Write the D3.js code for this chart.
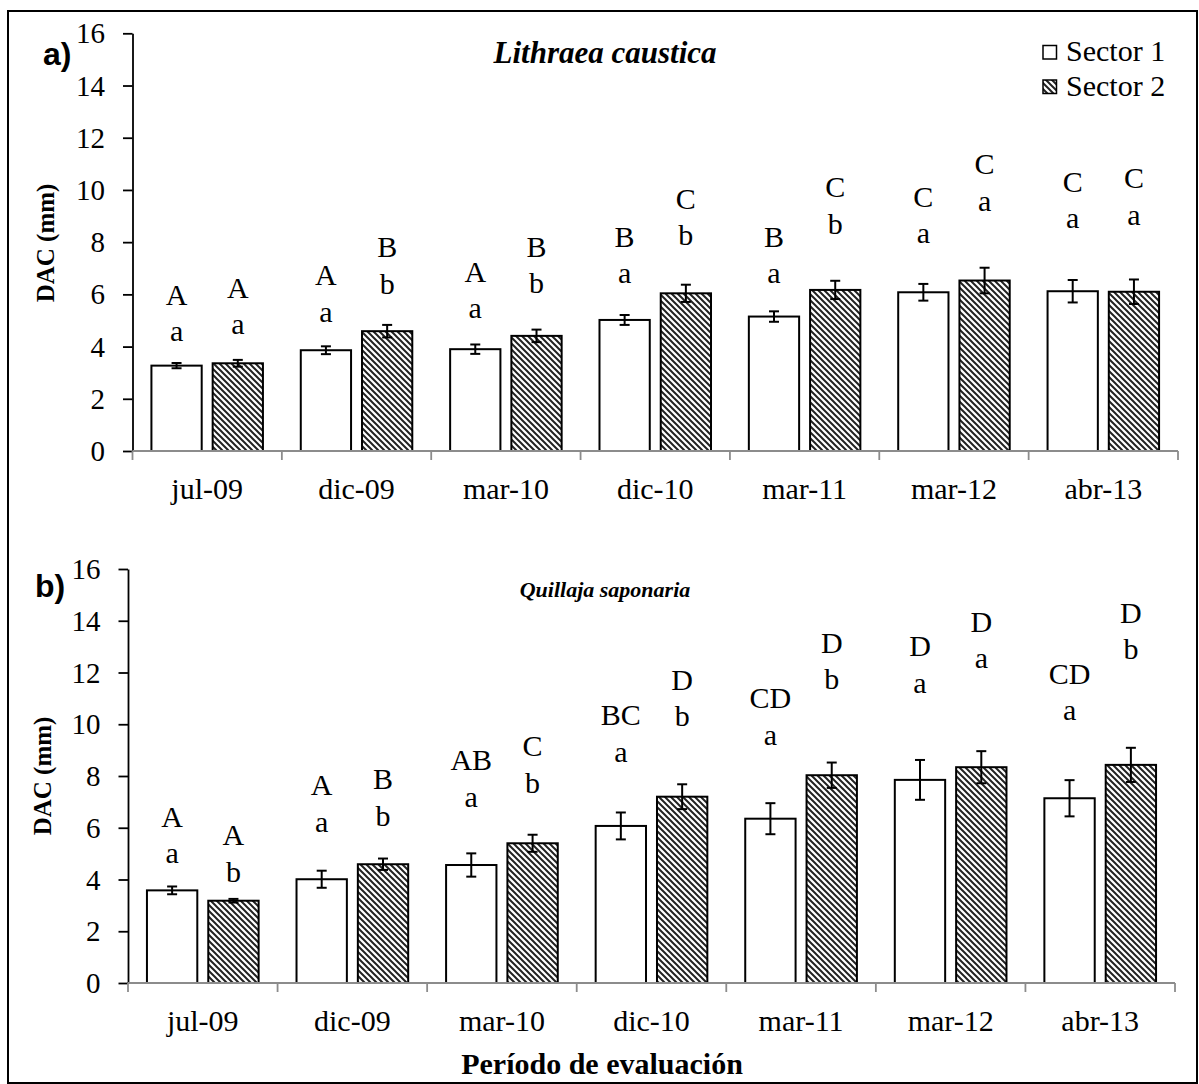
<!DOCTYPE html>
<html><head><meta charset="utf-8">
<script src="https://cdn.jsdelivr.net/npm/d3@7/dist/d3.min.js"></script>
<style>body{margin:0;background:#fff}</style>
</head><body><svg id="c" width="1199" height="1084"></svg>
<script>
const categories = ["jul-09","dic-09","mar-10","dic-10","mar-11","mar-12","abr-13"];
const seriesNames = ["Sector 1","Sector 2"];
const yTicks = [0,2,4,6,8,10,12,14,16];

// Panel a) Lithraea caustica
const aS1 = [3.27, 3.86, 3.90, 5.02, 5.15, 6.08, 6.12];
const aS1err = [0.10, 0.15, 0.18, 0.19, 0.20, 0.32, 0.43];
const aS2 = [3.36, 4.59, 4.41, 6.04, 6.17, 6.53, 6.10];
const aS2err = [0.13, 0.24, 0.24, 0.33, 0.35, 0.49, 0.47];
const aS1up = ["A","A","A","B","B","C","C"];
const aS1lo = ["a","a","a","a","a","a","a"];
const aS2up = ["A","B","B","C","C","C","C"];
const aS2lo = ["a","b","b","b","b","a","a"];
const aS1lev = [4.21, 4.95, 5.08, 6.43, 6.43, 7.96, 8.53];
const aS2lev = [4.47, 6.02, 6.04, 7.89, 8.33, 9.21, 8.66];

// Panel b) Quillaja saponaria
const bS1 = [3.58, 4.01, 4.56, 6.07, 6.35, 7.85, 7.14];
const bS1err = [0.15, 0.33, 0.45, 0.52, 0.60, 0.77, 0.70];
const bS2 = [3.18, 4.59, 5.40, 7.20, 8.03, 8.34, 8.43];
const bS2err = [0.07, 0.22, 0.33, 0.48, 0.49, 0.62, 0.66];
const bS1up = ["A","A","AB","BC","CD","D","CD"];
const bS1lo = ["a","a","a","a","a","a","a"];
const bS2up = ["A","B","C","D","D","D","D"];
const bS2lo = ["b","b","b","b","b","a","b"];
const bS1lev = [4.63, 5.85, 6.81, 8.55, 9.20, 11.22, 10.16];
const bS2lev = [3.92, 6.07, 7.35, 9.93, 11.35, 12.16, 12.51];

const svg = d3.select("#c");
const serif = "'Liberation Serif','Times New Roman',serif";

const defs = svg.append("defs");
const pat = defs.append("pattern").attr("id","hatch").attr("patternUnits","userSpaceOnUse")
  .attr("width",6).attr("height",6);
pat.append("rect").attr("width",6).attr("height",6).attr("fill","#fff");
pat.append("path").attr("d","M-1,-1 L7,7 M-4,2 L2,8 M4,-2 L8,2").attr("stroke","#222").attr("stroke-width",2);

// frame
svg.append("rect").attr("x",8).attr("y",11).attr("width",1189).attr("height",1072)
  .attr("fill","none").attr("stroke","#000").attr("stroke-width",2);

function panel(cfg){
  const g = svg.append("g");
  const x = d3.scaleBand().domain(categories).range([cfg.x0, cfg.x1]).paddingInner(0).paddingOuter(0);
  const xs = d3.scaleBand().domain(seriesNames).range([0, x.bandwidth()]).paddingInner(0.179).paddingOuter(0.309);
  const y = d3.scaleLinear().domain([0,16]).range([cfg.yb, cfg.yt]);
  const fills = ["#fff","url(#hatch)"];
  const vals = [cfg.s1, cfg.s2], errs = [cfg.e1, cfg.e2], ups=[cfg.u1,cfg.u2], los=[cfg.l1,cfg.l2], levs=[cfg.v1,cfg.v2];

  // y axis
  const ya = g.append("g").attr("transform",`translate(${cfg.x0},0)`)
    .call(d3.axisLeft(y).tickValues(yTicks).tickSize(9.5).tickPadding(18).tickSizeOuter(0));
  ya.select(".domain").attr("stroke","#000").attr("stroke-width",1.8);
  ya.selectAll(".tick line").attr("stroke","#000").attr("stroke-width",1.8);
  ya.selectAll(".tick text").attr("font-family",serif).attr("font-size",29).attr("fill","#000").attr("dy","0.33em");

  // bars
  seriesNames.forEach((s,si)=>{
    const gg = g.append("g");
    gg.selectAll("rect").data(categories).join("rect")
      .attr("x",(c)=>x(c)+xs(s)).attr("width",xs.bandwidth())
      .attr("y",(c,i)=>y(vals[si][i])).attr("height",(c,i)=>y(0)-y(vals[si][i]))
      .attr("fill",fills[si]).attr("stroke","#000").attr("stroke-width",2);
    // error bars
    const eb = gg.selectAll("g.eb").data(categories).join("g").attr("class","eb");
    const cx = (c)=>x(c)+xs(s)+xs.bandwidth()/2;
    eb.append("line").attr("x1",cx).attr("x2",cx)
      .attr("y1",(c,i)=>y(vals[si][i]-errs[si][i])).attr("y2",(c,i)=>y(vals[si][i]+errs[si][i]));
    eb.append("line").attr("x1",c=>cx(c)-5).attr("x2",c=>cx(c)+5)
      .attr("y1",(c,i)=>y(vals[si][i]-errs[si][i])).attr("y2",(c,i)=>y(vals[si][i]-errs[si][i]));
    eb.append("line").attr("x1",c=>cx(c)-5).attr("x2",c=>cx(c)+5)
      .attr("y1",(c,i)=>y(vals[si][i]+errs[si][i])).attr("y2",(c,i)=>y(vals[si][i]+errs[si][i]));
    eb.selectAll("line").attr("stroke","#000").attr("stroke-width",2);
    // letters
    gg.selectAll("text.lo").data(categories).join("text").attr("class","lo")
      .attr("x",cx).attr("y",(c,i)=>y(levs[si][i])).attr("text-anchor","middle")
      .attr("font-family",serif).attr("font-size",30).text((c,i)=>los[si][i]);
    gg.selectAll("text.up").data(categories).join("text").attr("class","up")
      .attr("x",cx).attr("y",(c,i)=>y(levs[si][i])-36.5).attr("text-anchor","middle")
      .attr("font-family",serif).attr("font-size",30).text((c,i)=>ups[si][i]);
  });

  // x axis
  g.append("line").attr("x1",cfg.x0).attr("x2",cfg.x1).attr("y1",y(0)).attr("y2",y(0))
    .attr("stroke","#8c8c8c").attr("stroke-width",1.8);
  const bounds = categories.map(c=>x(c)).concat([x(categories[categories.length-1])+x.bandwidth()]);
  g.selectAll("line.xt").data(bounds).join("line").attr("class","xt")
    .attr("x1",d=>d).attr("x2",d=>d).attr("y1",y(0)).attr("y2",y(0)+9)
    .attr("stroke","#8c8c8c").attr("stroke-width",1.8);
  g.selectAll("text.xl").data(categories).join("text").attr("class","xl")
    .attr("x",c=>x(c)+x.bandwidth()/2).attr("y",y(0)+48).attr("text-anchor","middle")
    .attr("font-family",serif).attr("font-size",30).text(c=>c);

  // titles
  g.append("text").attr("x",605).attr("y",cfg.titleY).attr("text-anchor","middle")
    .attr("font-family",serif).attr("font-weight","bold").attr("font-style","italic")
    .attr("font-size",cfg.titleSize).text(cfg.title);
  g.append("text").attr("transform",`translate(${cfg.ytX},${cfg.ytY}) rotate(-90)`)
    .attr("text-anchor","middle").attr("font-family",serif).attr("font-weight","bold")
    .attr("font-size",25).text("DAC (mm)");
  g.append("text").attr("x",cfg.tagX).attr("y",cfg.tagY)
    .attr("font-family","'Liberation Sans',Arial,sans-serif").attr("font-weight","bold")
    .attr("font-size",32).text(cfg.tag);
  return {x,xs,y};
}

panel({x0:132.5,x1:1178,yb:451,yt:33.3,s1:aS1,e1:aS1err,s2:aS2,e2:aS2err,u1:aS1up,l1:aS1lo,u2:aS2up,l2:aS2lo,v1:aS1lev,v2:aS2lev,
  title:"Lithraea caustica",titleY:63,titleSize:31,ytX:54,ytY:243,tag:"a)",tagX:43,tagY:65});
panel({x0:128,x1:1175,yb:983,yt:569,s1:bS1,e1:bS1err,s2:bS2,e2:bS2err,u1:bS1up,l1:bS1lo,u2:bS2up,l2:bS2lo,v1:bS1lev,v2:bS2lev,
  title:"Quillaja saponaria",titleY:597,titleSize:22,ytX:51,ytY:776,tag:"b)",tagX:35,tagY:597});

// legend
const leg = svg.append("g");
const legY = [45.5, 80];
seriesNames.forEach((s,i)=>{
  leg.append("rect").attr("x",1043).attr("y",legY[i]).attr("width",13.5).attr("height",13.5)
    .attr("fill",i===0?"#fff":"url(#hatch)").attr("stroke","#000").attr("stroke-width",1.5);
  leg.append("text").attr("x",1066).attr("y",legY[i]+15.5).attr("font-family",serif)
    .attr("font-size",30).text(s);
});

// x-axis title
svg.append("text").attr("x",602).attr("y",1074).attr("text-anchor","middle")
  .attr("font-family",serif).attr("font-weight","bold").attr("font-size",30).text("Período de evaluación");
</script></body></html>
